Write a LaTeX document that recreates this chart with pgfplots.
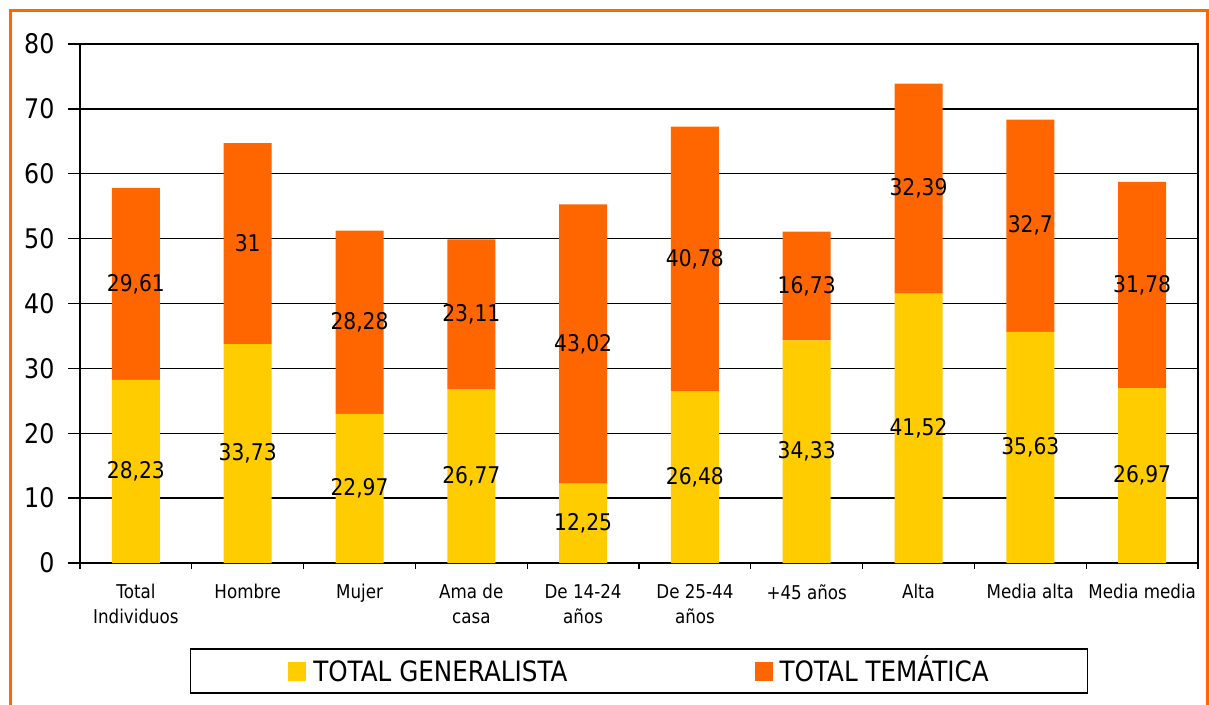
\documentclass[border=0pt]{standalone}
\usepackage{fontspec}
\setmainfont{DejaVu Sans}[FakeStretch=0.88]
\usepackage{pgfplots}
\pgfplotsset{compat=1.18}
\definecolor{gen}{HTML}{FFCC00}
\definecolor{tem}{HTML}{FF6600}
\begin{document}
\begin{tikzpicture}[x=1pt,y=1pt]
\useasboundingbox (0,0) rectangle (1209,704);
\draw[tem, line width=3pt] (10.7,693.3) rectangle (1207,-20);
\begin{axis}[
  at={(80pt,141pt)}, anchor=south west,
  scale only axis, width=1118pt, height=519pt,
  ybar stacked, bar width=48pt,
  xmin=-0.5, xmax=9.5, ymin=0, ymax=80,
  ytick={0,10,...,80},
  ymajorgrids, grid style={black, line width=1.3pt},
  axis line style={black, line width=1.6pt},
  ytick pos=left, xtick pos=bottom,
  tick align=outside,
  y tick style={black, line width=1.3pt}, major tick length=12pt,
  yticklabel style={font=\fontsize{27}{27}\selectfont, xshift=-10pt, /pgf/number format/assume math mode=true},
  xtick={0,...,9},
  x tick style={draw=none},
  xticklabels={{Total\\Individuos},Hombre,Mujer,{Ama de\\casa},{De 14-24\\años},{De 25-44\\años},{+45 años},Alta,Media alta,Media media},
  xticklabel style={font=\fontsize{19}{25}\selectfont, align=center, yshift=-6pt},
  extra x ticks={-0.5,0.5,...,9.5},
  extra x tick labels={},
  extra x tick style={grid=none, x tick style={draw=black, line width=1.3pt}, major tick length=6pt},
  nodes near coords,
  point meta=explicit,
  every node near coord/.append style={anchor=center, font=\fontsize{23}{23}\selectfont, black,
     /pgf/number format/use comma, /pgf/number format/precision=2, /pgf/number format/assume math mode=true},
  legend columns=2,
  legend style={at={(0.5,0)}, anchor=center, yshift=-108pt, draw=black, line width=1.3pt,
     font=\fontsize{28}{28}\selectfont, inner xsep=98pt, inner ysep=11pt,
     nodes={inner sep=1pt, text height=20pt, text depth=0pt},
     /tikz/every odd column/.append style={column sep=6pt},
     /tikz/every even column/.append style={column sep=186pt}},
  legend image code/.code={\fill[#1,draw=none] (0pt,-9.5pt) rectangle (18pt,9.5pt);},
]
\addplot[fill=gen, draw=none] coordinates {
 (0,28.23) [28.23] (1,33.73) [33.73] (2,22.97) [22.97] (3,26.77) [26.77] (4,12.25) [12.25]
 (5,26.48) [26.48] (6,34.33) [34.33] (7,41.52) [41.52] (8,35.63) [35.63] (9,26.97) [26.97]};
\addplot[fill=tem, draw=none] coordinates {
 (0,29.61) [29.61] (1,31) [31] (2,28.28) [28.28] (3,23.11) [23.11] (4,43.02) [43.02]
 (5,40.78) [40.78] (6,16.73) [16.73] (7,32.39) [32.39] (8,32.7) [32.7] (9,31.78) [31.78]};
\legend{TOTAL GENERALISTA,TOTAL TEMÁTICA}
\end{axis}
\end{tikzpicture}
\end{document}
